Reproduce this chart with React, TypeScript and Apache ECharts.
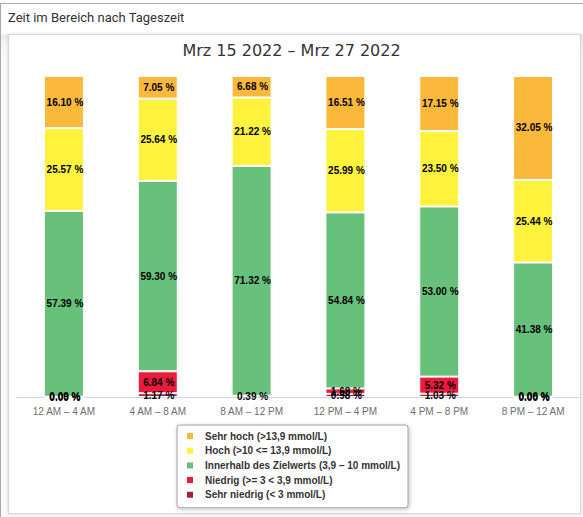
import React, { useEffect, useRef } from "react";
import * as echarts from "echarts";

const categories = ["12 AM – 4 AM", "4 AM – 8 AM", "8 AM – 12 PM", "12 PM – 4 PM", "4 PM – 8 PM", "8 PM – 12 AM"];
const sehrHoch = [16.10, 7.05, 6.68, 16.51, 17.15, 32.05];
const hoch = [25.57, 25.64, 21.22, 25.99, 23.50, 25.44];
const innerhalb = [57.39, 59.30, 71.32, 54.84, 53.00, 41.38];
const niedrig = [0.09, 6.84, 0.39, 1.68, 5.32, 0.06];
const sehrNiedrig: (number | null)[] = [0.00, 1.17, null, 0.98, 1.03, 0.00];

const seriesNames = [
  "Sehr hoch (>13,9 mmol/L)",
  "Hoch (>10 <= 13,9 mmol/L)",
  "Innerhalb des Zielwerts (3,9 – 10 mmol/L)",
  "Niedrig (>= 3 < 3,9 mmol/L)",
  "Sehr niedrig (< 3 mmol/L)",
];
const seriesColors = ["#FBB93B", "#FFF23C", "#68C17A", "#EC1A3D", "#A6213B"];

export default function App() {
  const ref = useRef<HTMLDivElement>(null);
  useEffect(() => {
    document.body.style.margin = "0";
    if (!ref.current) return;
    const chart = echarts.init(ref.current, undefined, { renderer: "svg" });
    const raw = [sehrHoch, hoch, innerhalb, niedrig, sehrNiedrig];
    const totals = categories.map((_, i) =>
      raw.reduce((s, arr) => s + ((arr[i] as number) || 0), 0)
    );
    // stacking order bottom -> top
    const order = [4, 3, 2, 1, 0];
    const series = order.map((k) => ({
      name: seriesNames[k],
      type: "bar",
      stack: "total",
      barWidth: 40,
      itemStyle: { color: seriesColors[k], borderColor: "#ffffff", borderWidth: 1 },
      label: {
        show: true,
        position: "inside",
        color: "#000",
        fontFamily: "Liberation Sans",
        fontWeight: "bold",
        fontSize: 10,
        offset: [1, 0],
        formatter: (p: any) => {
          const v = raw[k][p.dataIndex];
          return v === null || v === undefined ? "" : (v as number).toFixed(2) + " %";
        },
      },
      data: raw[k].map((v, i) => (v === null ? null : ((v as number) / totals[i]) * 100)),
    }));
    chart.setOption({
      animation: false,
      title: {
        text: "Mrz 15 2022 – Mrz 27 2022",
        left: "center",
        top: 37,
        textStyle: { fontFamily: "DejaVu Sans", fontSize: 16, fontWeight: "normal", color: "#333" },
      },
      legend: {
        orient: "vertical",
        left: 177,
        top: 425,
        data: seriesNames,
        icon: "rect",
        itemWidth: 8,
        itemHeight: 8,
        itemGap: 2.7,
        padding: [5, 8, 7, 8],
        borderColor: "#a0a0a0",
        borderWidth: 1,
        borderRadius: 3,
        backgroundColor: "#fff",
        shadowBlur: 4,
        shadowColor: "rgba(0,0,0,0.25)",
        shadowOffsetX: 1,
        shadowOffsetY: 1,
        selectedMode: false,
        textStyle: {
          fontFamily: "Liberation Sans",
          fontWeight: "bold",
          fontSize: 10,
          color: "#333",
          padding: [0, 0, 0, 6],
          lineHeight: 12,
        },
      },
      grid: { left: 17, right: 3, top: 76, bottom: 120, containLabel: false },
      xAxis: {
        type: "category",
        data: categories,
        axisLine: { lineStyle: { color: "#ccd6eb" } },
        axisTick: { show: false },
        axisLabel: { color: "#6e6e6e", fontFamily: "Liberation Sans", fontSize: 10, margin: 9 },
      },
      yAxis: {
        type: "value",
        min: 0,
        max: 100,
        show: false,
        splitLine: { show: false },
      },
      series,
    });
    return () => chart.dispose();
  }, []);

  return (
    <div style={{ position: "fixed", left: 0, top: 0, width: 583, height: 517, background: "#fff", overflow: "hidden" }}>
      <div
        style={{
          position: "absolute",
          left: 0,
          top: 3,
          width: 600,
          height: 530,
          borderLeft: "1px solid #a8a8a8",
          borderTop: "1px solid #a8a8a8",
          background: "linear-gradient(#fff 0px, #fff 30px, #e9e9e9 31px, #f6f6f6 40px, #fafafa 60px)",
        }}
      />
      <div
        style={{
          position: "absolute",
          left: 8,
          top: 10,
          fontFamily: "Roboto",
          fontSize: 13,
          color: "#333",
        }}
      >
        Zeit im Bereich nach Tageszeit
      </div>
      <div
        style={{
          position: "absolute",
          left: 8,
          top: 34,
          width: 571,
          height: 478,
          background: "#fff",
          border: "1px solid #d8d8d8",
          boxShadow: "0 0 3px rgba(0,0,0,0.15)",
        }}
      />
      <div ref={ref} style={{ position: "absolute", left: 0, top: 0, width: 583, height: 517 }} />
    </div>
  );
}
